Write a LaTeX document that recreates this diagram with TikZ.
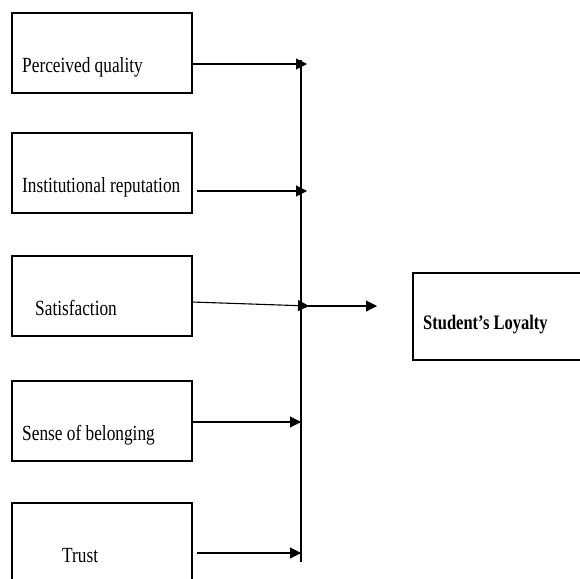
\documentclass[tikz,border=0pt]{standalone}
\usepackage{fontspec}
\setmainfont{Liberation Serif}
\usepackage{xcolor}
\usepackage{tikz}
\usetikzlibrary{arrows.meta, positioning}
\newcommand{\tallbox}[1]{\scalebox{1}[1.25]{#1}}

\begin{document}
\begin{tikzpicture}[x=1pt,y=-1pt,
		factor/.style={draw, line width=1.2pt, minimum width=180pt, minimum height=80pt, inner sep=0pt, outer sep=0pt},
		lbl/.style={anchor=base west, inner sep=0pt, font=\fontsize{17.3}{20}\selectfont},
		link/.style={line width=1.1pt, -{Triangle[length=11pt,width=11pt]}}]
		\useasboundingbox (0,0) rectangle (580,578);
		\clip (0,0) rectangle (580,578);
		\node[factor, anchor=north west] (quality) at (12,13) {};
		\node[factor, below=40pt of quality] (reputation) {};
		\node[factor, below=43pt of reputation] (satisf) {};
		\node[factor, below=45pt of satisf] (belong) {};
		\node[factor, below=42pt of belong] (trust) {};
		\node[factor, anchor=north west, minimum height=87pt] (loyalty) at (413,273) {};
		
		\node[lbl] (qualitytxt) at ([xshift=10pt, yshift=21pt]quality.south west) {\tallbox{Perceived quality}};
		\node[lbl] (reputationtxt) at ([xshift=10pt, yshift=21pt]reputation.south west) {\tallbox{Institutional reputation}};
		\node[lbl] (satisftxt) at ([xshift=23pt, yshift=21pt]satisf.south west) {\tallbox{Satisfaction}};
		\node[lbl] (belongtxt) at ([xshift=10pt, yshift=21pt]belong.south west) {\tallbox{Sense of belonging}};
		\node[lbl] (trusttxt) at ([xshift=50pt, yshift=21pt]trust.south west) {\tallbox{Trust}};
		\node[lbl, font=\fontsize{16.5}{20}\selectfont\bfseries] (loyaltytxt) at ([xshift=10pt, yshift=-56pt]loyalty.north west) {\tallbox{Student's Loyalty}};
		
		\coordinate (bustop) at (301,60);
		\coordinate (busbottom) at (301,562);
		\coordinate (hub) at (301,306);
		\coordinate (qualityout) at ([yshift=-11pt]quality.east);
		\coordinate (reputationout) at ([xshift=5pt, yshift=-18pt]reputation.east);
		\coordinate (satisfout) at ([yshift=-6pt]satisf.east);
		\coordinate (belongout) at ([yshift=-1pt]belong.east);
		\coordinate (trustout) at ([xshift=5pt, yshift=-10pt]trust.east);
		\draw[line width=1.4pt] (bustop) -- (busbottom);
		
		\draw[link] (qualityout) -- ([xshift=6pt]bustop |- qualityout);
		\draw[link] (reputationout) -- ([xshift=6pt]bustop |- reputationout);
		\draw[link] (satisfout) -- ([xshift=8pt]hub);
		\draw[link] (belongout) -- (bustop |- belongout);
		\draw[link] (trustout) -- (bustop |- trustout);
		\draw[link] (hub) -- ([xshift=-36pt]loyalty.west |- hub);
\end{tikzpicture}
\end{document}
